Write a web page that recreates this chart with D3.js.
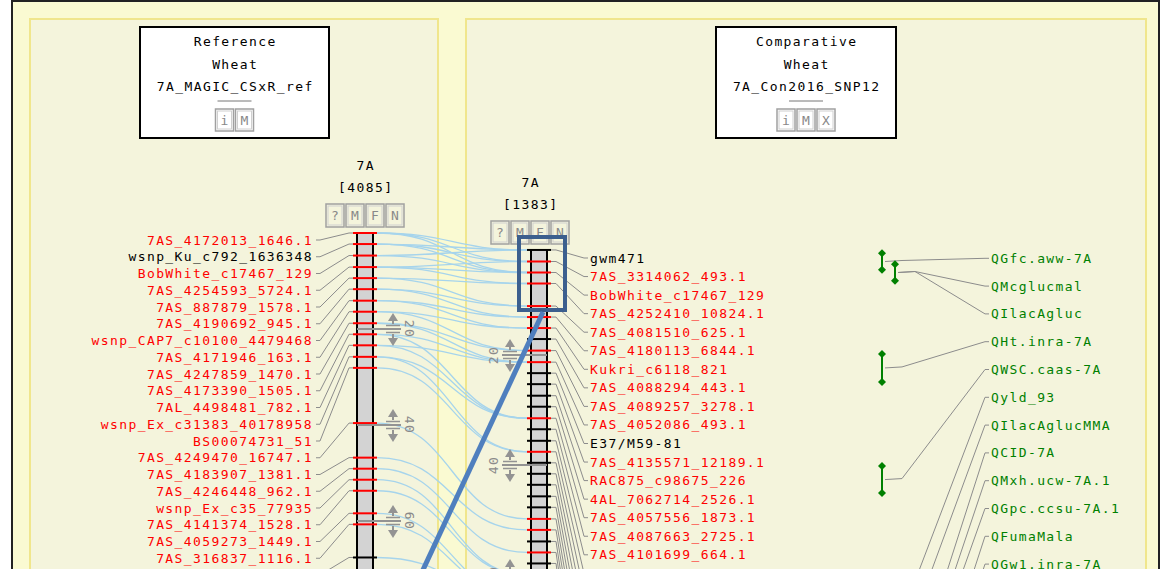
<!DOCTYPE html>
<html>
<head>
<meta charset="utf-8">
<script src="https://cdn.jsdelivr.net/npm/d3@7"></script>
<style>
    body { margin: 0; background: #fff; }
    svg { display: block; }
    text { font-family: "DejaVu Sans Mono", monospace; font-size: 13px; letter-spacing: 1.4px; }
</style>
</head>
<body>
<svg id="chart" width="1162" height="569"></svg>
<script>
// 参考图谱 7A_MAGIC_CSxR_ref
const refMarkers = [
    '7AS_4172013_1646.1', 'wsnp_Ku_c792_1636348', 'BobWhite_c17467_129', '7AS_4254593_5724.1',
    '7AS_887879_1578.1', '7AS_4190692_945.1', 'wsnp_CAP7_c10100_4479468', '7AS_4171946_163.1',
    '7AS_4247859_1470.1', '7AS_4173390_1505.1', '7AL_4498481_782.1', 'wsnp_Ex_c31383_40178958',
    'BS00074731_51', '7AS_4249470_16747.1', '7AS_4183907_1381.1', '7AS_4246448_962.1',
    'wsnp_Ex_c35_77935', '7AS_4141374_1528.1', '7AS_4059273_1449.1', '7AS_316837_1116.1'
];
const refMarkerShared = [1, 0, 1, 1, 1, 1, 1, 1, 1, 1, 1, 1, 1, 1, 1, 1, 1, 1, 1, 1];
const refPos = [0, 2.3, 4.7, 7.1, 9.4, 11.7, 14.1, 16.4, 18.8, 21.1, 23.4, 25.8, 28.1,
    39.6, 46.8, 49.1, 51.4, 53.7, 58.4, 60.7, 67.6];
const refPosShared = [1, 1, 1, 1, 1, 1, 1, 1, 1, 1, 1, 1, 1, 1, 1, 1, 1, 1, 1, 1, 0];

// 比较图谱 7A_Con2016_SNP12
const compMarkers = [
    'gwm471', '7AS_3314062_493.1', 'BobWhite_c17467_129', '7AS_4252410_10824.1',
    '7AS_4081510_625.1', '7AS_4180113_6844.1', 'Kukri_c6118_821', '7AS_4088294_443.1',
    '7AS_4089257_3278.1', '7AS_4052086_493.1', 'E37/M59-81', '7AS_4135571_12189.1',
    'RAC875_c98675_226', '4AL_7062714_2526.1', '7AS_4057556_1873.1', '7AS_4087663_2725.1',
    '7AS_4101699_664.1'
];
const compMarkerShared = [0, 1, 1, 1, 1, 1, 1, 1, 1, 1, 0, 1, 1, 1, 1, 1, 1];
const compPos = [0.9, 3.0, 5.0, 7.0, 11.1, 13.1, 15.1, 17.1, 19.2, 21.3, 23.3, 25.3, 27.4, 29.4,
    31.5, 33.5, 35.6, 37.6, 39.6, 41.6, 43.6, 45.7, 47.7, 49.8, 51.8, 53.9, 55.9, 57.9,
    60.0, 62.0, 64.1];
const compPosShared = [0, 1, 1, 1, 1, 1, 1, 0, 1, 1, 0, 0, 0, 0, 1, 0, 0, 1, 0, 0, 0, 0, 0,
    1, 1, 0, 1, 0, 1, 0, 1];

// 共有标记连线 [参考位置序号, 比较位置序号]
const links = [
    [0, 0], [0, 1], [0, 2], [1, 0], [1, 1], [1, 2], [2, 0], [2, 2], [3, 1], [3, 2], [3, 3],
    [4, 3], [4, 4], [5, 4], [5, 5], [6, 5], [6, 6], [7, 6], [7, 8], [8, 8], [8, 9], [9, 9],
    [9, 14], [10, 9], [10, 14], [11, 14], [11, 17], [12, 17], [13, 23], [14, 24], [15, 26],
    [16, 28], [17, 28], [18, 30], [19, 30], [20, 30]
];

// QTL
const qtlNames = [
    'QGfc.aww-7A', 'QMcglucmal', 'QIlacAgluc', 'QHt.inra-7A', 'QWSC.caas-7A', 'Qyld_93',
    'QIlacAglucMMA', 'QCID-7A', 'QMxh.ucw-7A.1', 'QGpc.ccsu-7A.1', 'QFumaMala', 'QGw1.inra-7A'
];
const qtlOf = [0, 1, 1, 2, 3, 4, 5, 6, 7, 8, 9, 10];
const qtlRanges = [[1.5, 4.5], [3.5, 6.5], [19.8, 24.9], [40.2, 45.1], [64, 71], [70, 78],
    [80, 90], [84, 92], [86, 95], [95, 104], [100, 108]];
const qtlLane = [0, 1, 0, 0, 0, 0, 0, 0, 0, 0, 0];

const rulerTicks = [20, 40, 60];

const svg = d3.select('#chart');
const RED = '#ff0000';
const LEADER = '#8c8c8c';

// 比例尺
const refY = d3.scaleLinear().domain([0, 60]).range([233, 521]);
const compY = d3.scaleLinear().domain([0, 60]).range([245, 575]);
const refSlot = d3.scaleLinear().domain([0, 1]).range([240, 256.75]);
const compSlot = d3.scaleLinear().domain([0, 1]).range([258, 276.55]);
const qtlSlot = d3.scaleLinear().domain([0, 1]).range([258.3, 286.1]);

// 背景和面板
svg.append('rect').attr('x', 12).attr('y', 1).attr('width', 1147).attr('height', 620)
    .attr('fill', '#fafad2').attr('stroke', '#222').attr('stroke-width', 2);
[[30, 19, 408], [466, 19, 680]].forEach(p => {
    svg.append('rect').attr('x', p[0]).attr('y', p[1]).attr('width', p[2]).attr('height', 620)
        .attr('fill', '#f4f4dc').attr('stroke', '#f0e68c').attr('stroke-width', 2);
});

// 小按钮
function drawButtons(x0, y0, letters, w, h) {
    letters.forEach((c, i) => {
        const x = x0 + i * (w + 2);
        svg.append('rect').attr('x', x).attr('y', y0).attr('width', w).attr('height', h)
            .attr('fill', 'none').attr('stroke', '#a0a0a0').attr('stroke-width', 1.5);
        svg.append('rect').attr('x', x + 2).attr('y', y0 + 2).attr('width', w - 4).attr('height', h - 4)
            .attr('fill', 'none').attr('stroke', '#d0d0d0').attr('stroke-width', 1);
        svg.append('text').attr('x', x + w / 2 + 0.7).attr('y', y0 + h / 2 + 4.5)
            .attr('text-anchor', 'middle').attr('fill', '#888').attr('font-size', '12px').text(c);
    });
}

// 标题框
function drawTitleBox(x, w, lines, letters) {
    svg.append('rect').attr('x', x).attr('y', 27).attr('width', w).attr('height', 111)
        .attr('fill', '#fff').attr('stroke', '#000').attr('stroke-width', 2);
    const cx = x + w / 2;
    lines.forEach((t, i) => {
        svg.append('text').attr('x', cx + 0.7).attr('y', 46 + i * 22.5)
            .attr('text-anchor', 'middle').attr('fill', '#000').text(t);
    });
    svg.append('line').attr('x1', cx - 17).attr('x2', cx + 17).attr('y1', 101).attr('y2', 101)
        .attr('stroke', '#777').attr('stroke-width', 1);
    const bw = letters.length * 20 - 2;
    drawButtons(cx - bw / 2, 109, letters, 18, 22);
}
drawTitleBox(140, 189, ['Reference', 'Wheat', '7A_MAGIC_CSxR_ref'], ['i', 'M']);
drawTitleBox(716, 180, ['Comparative', 'Wheat', '7A_Con2016_SNP12'], ['i', 'M', 'X']);

// 染色体标题
function drawChromHeader(cx, y, count) {
    svg.append('text').attr('x', cx + 0.7).attr('y', y).attr('text-anchor', 'middle').text('7A');
    svg.append('text').attr('x', cx + 0.7).attr('y', y + 22).attr('text-anchor', 'middle').text(`[${count}]`);
    drawButtons(cx - 39, y + 34, ['?', 'M', 'F', 'N'], 18, 23);
}
drawChromHeader(365, 170, 4085);
drawChromHeader(530, 187, 1383);

// 连线
const link = d3.linkHorizontal();
svg.append('g').selectAll('path').data(links).enter().append('path')
    .attr('d', d => link({ source: [377, refY(refPos[d[0]])], target: [527, compY(compPos[d[1]])] }))
    .attr('fill', 'none').attr('stroke', '#a6d4ec').attr('stroke-width', 1.3);

// 染色体
function drawChrom(x, top, positions, shared, yScale) {
    svg.append('rect').attr('x', x).attr('y', top).attr('width', 16).attr('height', 620 - top)
        .attr('fill', '#d3d3d3');
    [x, x + 16].forEach(lx => {
        svg.append('line').attr('x1', lx).attr('x2', lx).attr('y1', top).attr('y2', 620)
            .attr('stroke', '#000').attr('stroke-width', 2);
    });
    svg.append('g').selectAll('line').data(positions).enter().append('line')
        .attr('x1', x - 4).attr('x2', x + 20)
        .attr('y1', d => yScale(d)).attr('y2', d => yScale(d))
        .attr('stroke', (d, i) => shared[i] ? RED : '#000').attr('stroke-width', 2);
}
drawChrom(357, refY(refPos[0]), refPos, refPosShared, refY);
drawChrom(531, compY(compPos[0]), compPos, compPosShared, compY);

// 标尺
function drawRuler(cx, y, label, side, x1, x2) {
    const c = '#939393';
    const g = svg.append('g');
    g.append('line').attr('x1', x1).attr('x2', x2).attr('y1', y).attr('y2', y)
        .attr('stroke', c).attr('stroke-width', 2);
    [-3.5, 3.5].forEach(o => g.append('line').attr('x1', cx - 7).attr('x2', cx + 7)
        .attr('y1', y + o).attr('y2', y + o).attr('stroke', c).attr('stroke-width', 1.5));
    g.append('path').attr('d', `M${cx},${y - 16}L${cx - 5},${y - 8}L${cx + 5},${y - 8}Z`).attr('fill', c);
    g.append('path').attr('d', `M${cx},${y + 17}L${cx - 5},${y + 9}L${cx + 5},${y + 9}Z`).attr('fill', c);
    g.append('line').attr('x1', cx).attr('x2', cx).attr('y1', y - 9).attr('y2', y - 5)
        .attr('stroke', c).attr('stroke-width', 2);
    g.append('line').attr('x1', cx).attr('x2', cx).attr('y1', y + 5).attr('y2', y + 9)
        .attr('stroke', c).attr('stroke-width', 2);
    const tx = side > 0 ? cx + 17 : cx - 17;
    g.append('text').attr('transform', `translate(${tx},${y}) rotate(${side > 0 ? 90 : -90})`)
        .attr('text-anchor', 'middle').attr('dy', '0.35em').attr('fill', '#8a8a8a')
        .attr('font-size', '12px').attr('letter-spacing', '1px').text(label);
}
rulerTicks.forEach(t => drawRuler(393, refY(t), t, 1, 357, 401));
rulerTicks.forEach(t => drawRuler(510, compY(t), t, -1, 502, 547));

// 参考图谱标签及引线
svg.append('g').selectAll('path').data(refPos).enter().append('path')
    .attr('d', (d, i) => `M316,${refSlot(i)}L320,${refSlot(i)}L349,${refY(d)}L353,${refY(d)}`)
    .attr('fill', 'none').attr('stroke', LEADER).attr('stroke-width', 1);
svg.append('g').selectAll('text').data(refMarkers).enter().append('text')
    .attr('x', 313).attr('y', (d, i) => refSlot(i) + 4.5).attr('text-anchor', 'end')
    .attr('fill', (d, i) => refMarkerShared[i] ? RED : '#000').text(d => d);

// 比较图谱标签及引线
svg.append('g').selectAll('path').data(compPos).enter().append('path')
    .attr('d', (d, i) => `M551,${compY(d)}L556,${compY(d)}L584,${compSlot(i)}L588,${compSlot(i)}`)
    .attr('fill', 'none').attr('stroke', LEADER).attr('stroke-width', 1);
svg.append('g').selectAll('text').data(compMarkers).enter().append('text')
    .attr('x', 590).attr('y', (d, i) => compSlot(i) + 4.5)
    .attr('fill', (d, i) => compMarkerShared[i] ? RED : '#000').text(d => d);

// QTL
const GREEN = '#008000';
const qtlX = i => 882 + qtlLane[i] * 13;
svg.append('g').selectAll('path').data(qtlNames).enter().append('path')
    .attr('d', (d, i) => {
        const q = qtlOf[i];
        const my = compY((qtlRanges[q][0] + qtlRanges[q][1]) / 2);
        return `M${qtlX(q) + 3},${my}L${qtlX(q) + 20},${my - 1}L985,${qtlSlot(i)}L989,${qtlSlot(i)}`;
    })
    .attr('fill', 'none').attr('stroke', LEADER).attr('stroke-width', 1);
qtlRanges.forEach((r, i) => {
    const x = qtlX(i), y1 = compY(r[0]), y2 = compY(r[1]);
    svg.append('line').attr('x1', x).attr('x2', x).attr('y1', y1).attr('y2', y2)
        .attr('stroke', GREEN).attr('stroke-width', 2);
    [y1, y2].forEach(y => svg.append('path')
        .attr('d', `M${x},${y - 4}L${x + 4},${y}L${x},${y + 4}L${x - 4},${y}Z`).attr('fill', GREEN));
});
svg.append('g').selectAll('text').data(qtlNames).enter().append('text')
    .attr('x', 991).attr('y', (d, i) => qtlSlot(i) + 4.5).attr('fill', GREEN).text(d => d);

// 标注框和指示线
svg.append('rect').attr('x', 519).attr('y', 237).attr('width', 46).attr('height', 73)
    .attr('fill', 'none').attr('stroke', '#3c5f8e').attr('stroke-width', 4);
svg.append('line').attr('x1', 543).attr('y1', 312).attr('x2', 422).attr('y2', 572)
    .attr('stroke', '#4f7fbe').attr('stroke-width', 5);
</script>
</body>
</html>
